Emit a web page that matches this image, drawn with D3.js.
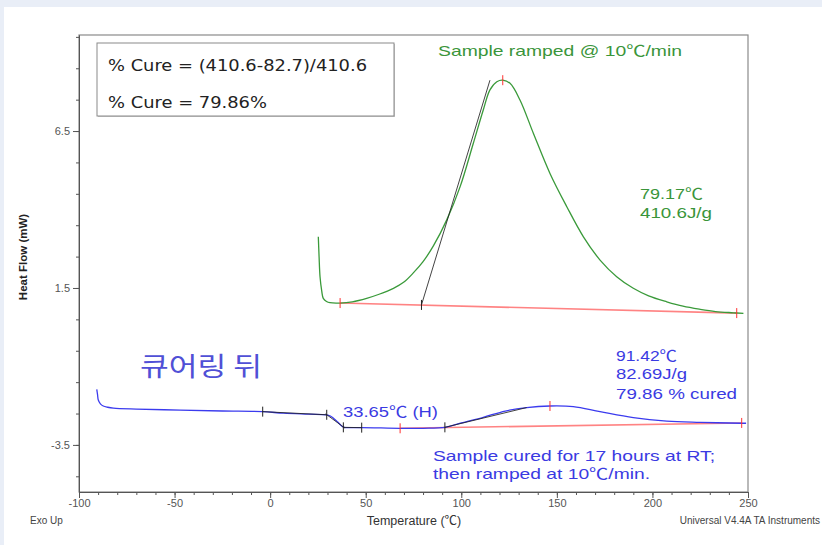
<!DOCTYPE html>
<html><head><meta charset="utf-8">
<script src="https://cdn.jsdelivr.net/npm/d3@7"></script>
<style>
html,body{margin:0;padding:0;background:#e9eef7;}
svg{display:block;}
</style></head><body>
<svg id="c" width="822" height="545"></svg>
<script>
// Axis ticks
const xMajorTicks = [-100, -50, 0, 50, 100, 150, 200, 250];
const xMinorTicks = d3.range(-100, 251, 10);
const yMajorTicks = [6.5, 1.5, -3.5];
const yMinorTicks = d3.range(-4.5, 9.6, 1);

// DSC scan of the fresh sample: [temperature °C, heat flow mW]
const rampTemp = [25.2, 25.6, 26.1, 27.0, 27.8, 29.5, 31.3, 36.6, 43, 50.5, 57, 64.5, 70, 74.9, 80, 85.4, 92.4, 99.4, 106.3, 111.5, 115.0, 118.6, 121.7, 125.5, 130.7, 137.7, 146.4, 155.2, 163.9, 172.6, 181.3, 190.0, 198, 207.5, 216, 225.0, 233, 242.3, 247.6];
const rampFlow = [3.13, 2.5, 1.86, 1.40, 1.17, 1.07, 1.03, 1.02, 1.06, 1.17, 1.30, 1.49, 1.69, 1.98, 2.34, 2.84, 3.67, 4.73, 6.11, 7.17, 7.81, 8.07, 8.12, 8.02, 7.49, 6.43, 5.15, 4.09, 3.13, 2.39, 1.86, 1.49, 1.25, 1.06, 0.92, 0.82, 0.75, 0.71, 0.69];

// DSC scan after 17 h at room temperature
const curedTemp = [-90.7, -90.3, -89.9, -88.8, -87.3, -85, -82.0, -70, -47.1, -25, -3.9, 6.9, 20, 29.6, 31.5, 33.1, 35.5, 38.3, 42, 47.9, 58, 68.0, 80, 91.5, 100, 111.5, 123, 134.2, 146.4, 158.6, 172.6, 190.0, 207.5, 225.0, 246.7, 249];
const curedFlow = [-1.73, -1.90, -2.07, -2.19, -2.26, -2.30, -2.33, -2.36, -2.39, -2.42, -2.44, -2.49, -2.52, -2.54, -2.58, -2.65, -2.78, -2.93, -2.95, -2.95, -2.96, -2.97, -2.97, -2.94, -2.80, -2.62, -2.42, -2.31, -2.26, -2.28, -2.44, -2.63, -2.74, -2.78, -2.81, -2.81];

// Peak integration results
const rampBaseline = [[36.6, 1.02], [244.1, 0.70]];
const rampOnsetTangent = [[79.17, 0.96], [115.0, 8.12]];
const rampPeak = [121.7, 8.12];
const curedBaseline = [[68.0, -2.97], [246.7, -2.80]];
const curedOnsetTangent = [[91.42, -2.94], [134.2, -2.31]];
const curedPeak = [146.4, -2.26];
// Glass transition construction lines
const tgBefore = [[-3.9, -2.44], [29.6, -2.54]];
const tgTangent = [[29.0, -2.51], [39.0, -2.96]];
const tgAfter = [[38.3, -2.94], [47.9, -2.95]];
const tgTicks = [[-3.9, -2.44], [29.6, -2.54], [38.3, -2.94], [47.9, -2.95]];

const svg = d3.select("#c");
svg.append("rect").attr("x", 4).attr("y", 7).attr("width", 818).attr("height", 538).attr("fill", "#fff");

const x = d3.scaleLinear().domain([-100, 250]).range([79, 748]);
const y = d3.scaleLinear().domain([-5, 9.56]).range([492, 35]);

const FONT = "'Liberation Sans', Arial, 'Noto Sans CJK KR', sans-serif";

// plot frame
svg.append("rect")
  .attr("x", x(-100)).attr("y", y(9.56))
  .attr("width", x(250) - x(-100)).attr("height", y(-5) - y(9.56))
  .attr("fill", "none").attr("stroke", "#8a8a8a").attr("stroke-width", 1.2);

function styleAxis(g) {
  g.selectAll("path,line").attr("stroke", "#555");
  g.selectAll("text").attr("font-family", FONT).attr("font-size", 11).attr("fill", "#555");
}

// x axis
svg.append("g").attr("transform", `translate(0,${y(-5)})`)
  .call(d3.axisBottom(x).tickValues(xMinorTicks).tickSize(3).tickFormat("").tickSizeOuter(0))
  .call(styleAxis);
svg.append("g").attr("transform", `translate(0,${y(-5)})`)
  .call(d3.axisBottom(x).tickValues(xMajorTicks).tickSize(6).tickPadding(1).tickFormat(d => String(d)).tickSizeOuter(0))
  .call(styleAxis);

// y axis
svg.append("g").attr("transform", `translate(${x(-100)},0)`)
  .call(d3.axisLeft(y).tickValues(yMinorTicks).tickSize(3).tickFormat("").tickSizeOuter(0))
  .call(styleAxis);
svg.append("g").attr("transform", `translate(${x(-100)},0)`)
  .call(d3.axisLeft(y).tickValues(yMajorTicks).tickSize(6).tickPadding(3).tickFormat(d => d.toFixed(1)).tickSizeOuter(0))
  .call(styleAxis);

const line = d3.line().x(d => x(d[0])).y(d => y(d[1])).curve(d3.curveCatmullRom.alpha(0.5));
const seg = d3.line().x(d => x(d[0])).y(d => y(d[1]));

const rampData = rampTemp.map((t, i) => [t, rampFlow[i]]);
const curedData = curedTemp.map((t, i) => [t, curedFlow[i]]);

// baselines (red)
[rampBaseline, curedBaseline].forEach(b => {
  svg.append("path").attr("d", seg(b)).attr("fill", "none")
    .attr("stroke", "#ff5a5a").attr("stroke-opacity", 0.75).attr("stroke-width", 1.6);
});

// curves
svg.append("path").attr("d", line(rampData)).attr("fill", "none")
  .attr("stroke", "#3a9a3a").attr("stroke-width", 1.3);
svg.append("path").attr("d", line(curedData)).attr("fill", "none")
  .attr("stroke", "#3b3bee").attr("stroke-width", 1.3);

// tangent / construction lines (black)
[rampOnsetTangent, curedOnsetTangent, tgBefore, tgTangent, tgAfter].forEach(b => {
  svg.append("path").attr("d", seg(b)).attr("fill", "none")
    .attr("stroke", "#222").attr("stroke-width", 1).attr("stroke-opacity", 0.85);
});

// limit markers
function vtick(p, color) {
  svg.append("line")
    .attr("x1", x(p[0])).attr("x2", x(p[0]))
    .attr("y1", y(p[1]) - 5).attr("y2", y(p[1]) + 5)
    .attr("stroke", color).attr("stroke-width", 1);
}
[rampBaseline[0], rampBaseline[1], rampPeak, curedBaseline[0], curedBaseline[1], curedPeak].forEach(p => vtick(p, "#ff3030"));
tgTicks.forEach(p => vtick(p, "#222"));
vtick(curedOnsetTangent[0], "#222");
vtick(rampOnsetTangent[0], "#222");

// result box
svg.append("rect").attr("x", 98).attr("y", 44).attr("width", 297).attr("height", 73)
  .attr("fill", "#c8c8c8");
svg.append("rect").attr("x", 97).attr("y", 43).attr("width", 297).attr("height", 73)
  .attr("fill", "#fff").attr("stroke", "#8a8a8a").attr("stroke-width", 1);

function txt(s, px, py, opts) {
  const t = svg.append("text").attr("x", px).attr("y", py).text(s)
    .attr("font-family", opts.family || FONT)
    .attr("font-size", opts.size || 15)
    .attr("fill", opts.fill || "#000");
  if (opts.weight) t.attr("font-weight", opts.weight);
  if (opts.len) t.attr("textLength", opts.len).attr("lengthAdjust", "spacingAndGlyphs");
  if (opts.anchor) t.attr("text-anchor", opts.anchor);
  return t;
}

const BOXFONT = "'DejaVu Sans', Verdana, sans-serif";
txt("% Cure = (410.6-82.7)/410.6", 108, 71, {family: BOXFONT, size: 16, fill: "#222", len: 259});
txt("% Cure = 79.86%", 108, 107.5, {family: BOXFONT, size: 16, fill: "#222", len: 159});

const GREEN = "#3a953a", BLUE = "#3a3ae2";
txt("Sample ramped @ 10\u2103/min", 438, 55.5, {fill: GREEN, len: 244});
txt("79.17\u2103", 640, 198.5, {fill: GREEN, len: 63});
txt("410.6J/g", 640, 217.5, {fill: GREEN, len: 72});

txt("\ud050\uc5b4\ub9c1 \ub4a4", 140, 376, {family: "'Noto Sans CJK KR', sans-serif", size: 26, fill: "#5050d6", len: 122});
txt("33.65\u2103 (H)", 343, 417, {fill: BLUE, len: 95});
txt("91.42\u2103", 616, 360.5, {fill: BLUE, len: 61});
txt("82.69J/g", 616, 379, {fill: BLUE, len: 71});
txt("79.86 % cured", 616, 398.5, {fill: BLUE, len: 121});
txt("Sample cured for 17 hours at RT;", 433, 460.5, {fill: BLUE, len: 282});
txt("then ramped at 10\u2103/min.", 433, 478.5, {fill: BLUE, len: 217});

// axis titles and footer
svg.append("text").attr("transform", "translate(27,257) rotate(-90)")
  .attr("text-anchor", "middle").attr("font-family", FONT).attr("font-size", 11.5)
  .attr("font-weight", "bold").attr("fill", "#222").text("Heat Flow (mW)");
txt("Temperature (\u2103)", 414, 525, {size: 12.5, fill: "#333", anchor: "middle"});
txt("Exo Up", 30, 524, {size: 10, fill: "#444"});
txt("Universal V4.4A TA Instruments", 820, 524, {size: 10, fill: "#444", anchor: "end"});
</script></body></html>
